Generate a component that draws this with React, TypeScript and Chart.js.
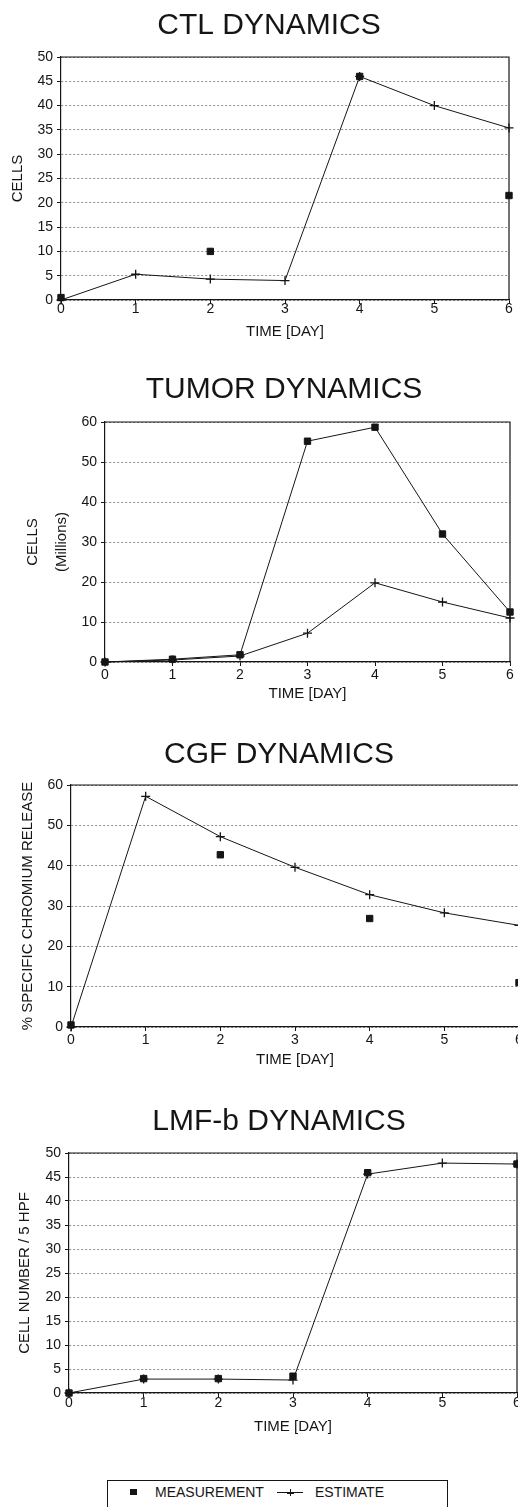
import React, { useEffect, useRef } from "react";
import { Chart, registerables } from "chart.js";

Chart.register(...registerables);

// ---------------- data ----------------
const DAYS = ["0", "1", "2", "3", "4", "5", "6"];
const SERIES_LABELS = ["MEASUREMENT", "ESTIMATE"];
const X_TITLE = "TIME [DAY]";

const CTL_MEASUREMENT = [0.5, null, 10, null, 46, null, 21.5];
const CTL_ESTIMATE = [0, 5.3, 4.3, 4.0, 46, 40, 35.4];

const TUMOR_MEASUREMENT = [0, 0.7, 1.8, 55.2, 58.7, 32, 12.5];
const TUMOR_ESTIMATE = [0, 0.5, 1.5, 7.2, 19.8, 15, 11];

const CGF_MEASUREMENT = [0.5, null, 42.7, null, 26.9, null, 11];
const CGF_ESTIMATE = [0, 57.2, 47.2, 39.6, 32.8, 28.3, 25.2];

const LMF_MEASUREMENT = [0, 3, 3, 3.5, 45.9, null, 47.7];
const LMF_ESTIMATE = [0, 2.9, 2.9, 2.7, 45.6, 47.9, 47.7];

// ---------------- styles ----------------
const FONT = "'Liberation Sans', Arial, Helvetica, sans-serif";
const INK = "#151515";
const GRID = "rgba(0,0,0,0.45)";

type PanelDef = {
  title: string;
  yTitle: string | string[];
  yMax: number;
  yStep: number;
  measurement: (number | null)[];
  estimate: (number | null)[];
  measurementLine: boolean;
  // layout
  top: number;
  padL: number;
  chartLeft: number;
  chartRight: number;
  titleGap: number;
  xHeight: number;
  height: number;
  xLabelPad: number;
  yTitlePad: number;
  yTitleLH: number;
};

const PANELS: PanelDef[] = [
  {
    title: "CTL DYNAMICS", yTitle: "CELLS", yMax: 50, yStep: 5,
    measurement: CTL_MEASUREMENT, estimate: CTL_ESTIMATE, measurementLine: false,
    top: 1, padL: 29, chartLeft: 61, chartRight: 509, titleGap: 13, xHeight: 41, height: 340,
    xLabelPad: -2, yTitlePad: -20, yTitleLH: 1.2,
  },
  {
    title: "TUMOR DYNAMICS", yTitle: ["CELLS", "(Millions)"], yMax: 60, yStep: 10,
    measurement: TUMOR_MEASUREMENT, estimate: TUMOR_ESTIMATE, measurementLine: true,
    top: 365, padL: 58, chartLeft: 105, chartRight: 510, titleGap: 14, xHeight: 41, height: 338,
    xLabelPad: 2.5, yTitlePad: -39.25, yTitleLH: 1.9,
  },
  {
    title: "CGF DYNAMICS", yTitle: "% SPECIFIC CHROMIUM RELEASE", yMax: 60, yStep: 10,
    measurement: CGF_MEASUREMENT, estimate: CGF_ESTIMATE, measurementLine: false,
    top: 730, padL: 39, chartLeft: 71, chartRight: 519, titleGap: 12, xHeight: 42, height: 339,
    xLabelPad: 2, yTitlePad: -20.5, yTitleLH: 1.2,
  },
  {
    title: "LMF-b DYNAMICS", yTitle: "CELL NUMBER / 5 HPF", yMax: 50, yStep: 5,
    measurement: LMF_MEASUREMENT, estimate: LMF_ESTIMATE, measurementLine: false,
    top: 1097, padL: 41, chartLeft: 69, chartRight: 517, titleGap: 13, xHeight: 43, height: 339,
    xLabelPad: -0.5, yTitlePad: -25, yTitleLH: 1.2,
  },
];

const PAD_R = 9;

const framePlugin = {
  id: "frame",
  afterDraw(chart: any) {
    const { ctx, chartArea } = chart;
    const { left, top, right, bottom } = chartArea;
    ctx.save();
    ctx.strokeStyle = INK;
    ctx.lineWidth = 1.2;
    ctx.beginPath();
    ctx.moveTo(left, top);
    ctx.lineTo(right, top);
    ctx.lineTo(right, bottom);
    ctx.stroke();
    ctx.restore();
  },
};

function Panel({ p }: { p: PanelDef }) {
  const ref = useRef<HTMLCanvasElement | null>(null);
  const width = p.chartRight + PAD_R;

  useEffect(() => {
    if (!ref.current) return;
    const chart = new Chart(ref.current, {
      type: "line",
      data: {
        labels: DAYS,
        datasets: [
          {
            label: SERIES_LABELS[0],
            data: p.measurement,
            showLine: p.measurementLine,
            spanGaps: false,
            borderColor: INK,
            backgroundColor: INK,
            borderWidth: 1,
            pointStyle: "rect",
            pointRadius: 4.5,
            pointBorderWidth: 1,
            pointBackgroundColor: INK,
            pointBorderColor: INK,
            clip: false,
          },
          {
            label: SERIES_LABELS[1],
            data: p.estimate,
            showLine: true,
            borderColor: INK,
            backgroundColor: INK,
            borderWidth: 1,
            pointStyle: "cross",
            pointRadius: 4.5,
            pointBorderWidth: 1.3,
            pointBorderColor: INK,
            clip: false,
          },
        ],
      },
      options: {
        responsive: false,
        animation: false,
        layout: { padding: { left: p.padL, right: PAD_R, top: 0, bottom: 0 } },
        plugins: {
          legend: { display: false },
          tooltip: { enabled: false },
          title: {
            display: true,
            text: p.title,
            color: INK,
            font: { family: FONT, size: 30, weight: "normal", lineHeight: 1.2 },
            padding: { top: 7, bottom: p.titleGap },
          },
        },
        scales: {
          x: {
            type: "category",
            offset: false,
            grid: {
              display: true,
              drawOnChartArea: false,
              drawTicks: true,
              tickLength: 4,
              color: INK,
              tickColor: INK,
              tickWidth: 1,
            },
            border: { display: true, color: INK, width: 1.2 },
            ticks: {
              color: INK,
              font: { family: FONT, size: 14, lineHeight: 1 },
              padding: p.xLabelPad,
              maxRotation: 0,
              autoSkip: false,
            },
            title: {
              display: true,
              text: X_TITLE,
              color: INK,
              font: { family: FONT, size: 15, lineHeight: 1.2 },
              padding: { top: 0, bottom: 0 },
            },
            afterFit: (s: any) => {
              s.height = p.xHeight;
              s.paddingLeft = 0;
              s.paddingRight = 0;
            },
          },
          y: {
            type: "linear",
            min: 0,
            max: p.yMax,
            ticks: {
              stepSize: p.yStep,
              color: INK,
              font: { family: FONT, size: 14 },
              padding: 4,
            },
            grid: {
              color: GRID,
              lineWidth: 1,
              tickColor: INK,
              tickLength: 4,
              tickWidth: 1,
              tickBorderDash: [],
            },
            border: { display: true, color: INK, width: 1.2, dash: [2, 2] },
            title: {
              display: true,
              text: p.yTitle,
              color: INK,
              font: { family: FONT, size: 15, lineHeight: p.yTitleLH },
              padding: { top: p.yTitlePad, bottom: 0 },
            },
            afterFit: (s: any) => {
              s.width = p.chartLeft - p.padL;
              s.paddingTop = 0;
              s.paddingBottom = 0;
            },
          },
        },
      } as any,
      plugins: [framePlugin],
    });
    return () => chart.destroy();
  }, [p]);

  return (
    <canvas
      ref={ref}
      width={width}
      height={p.height}
      style={{ position: "absolute", left: 0, top: p.top, width, height: p.height, display: "block" }}
    />
  );
}

function Legend() {
  const text: React.CSSProperties = {
    position: "absolute",
    top: 4,
    fontFamily: FONT,
    fontSize: 14,
    lineHeight: "14px",
    color: INK,
    whiteSpace: "nowrap",
  };
  return (
    <div
      style={{
        position: "absolute",
        left: 107,
        top: 1480,
        width: 341,
        height: 40,
        border: `1px solid ${INK}`,
        boxSizing: "border-box",
        background: "#fff",
      }}
    >
      <div style={{ position: "absolute", left: 22, top: 8, width: 7, height: 6, background: INK }} />
      <span style={{ ...text, left: 47 }}>{SERIES_LABELS[0]}</span>
      <div style={{ position: "absolute", left: 169, top: 11, width: 26, height: 1, background: INK }} />
      <div style={{ position: "absolute", left: 182, top: 8, width: 1, height: 7, background: INK }} />
      <div style={{ position: "absolute", left: 179, top: 11, width: 7, height: 1.5, background: INK }} />
      <span style={{ ...text, left: 207 }}>{SERIES_LABELS[1]}</span>
    </div>
  );
}

export default function App() {
  return (
    <div
      style={{
        position: "absolute",
        left: 0,
        top: 0,
        width: 518,
        height: 1507,
        overflow: "hidden",
        background: "#fff",
      }}
    >
      {PANELS.map((p) => (
        <Panel key={p.title} p={p} />
      ))}
      <Legend />
    </div>
  );
}
